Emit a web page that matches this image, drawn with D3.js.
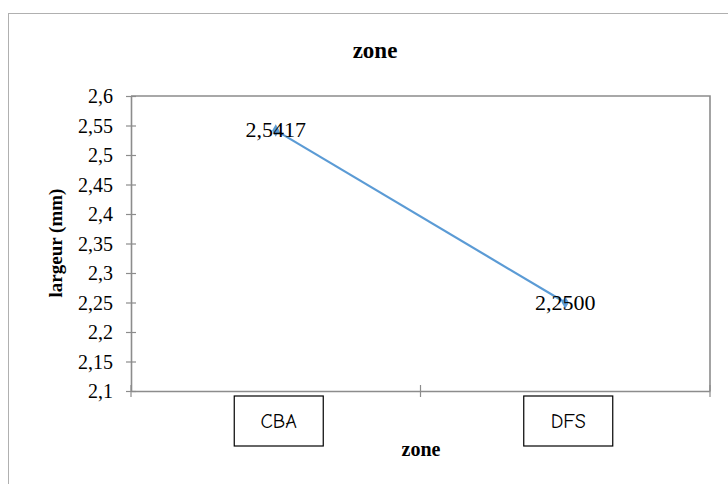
<!DOCTYPE html>
<html>
<head>
<meta charset="utf-8">
<script src="https://cdn.jsdelivr.net/npm/d3@7/dist/d3.min.js"></script>
<style>
html,body{margin:0;padding:0;background:#fff;}
svg{display:block;}
</style>
</head>
<body>
<div id="chart"></div>
<script>
const categories = ["CBA", "DFS"];
const values = [2.5417, 2.2500];
const valueLabels = ["2,5417", "2,2500"];
const yTicks = [2.1, 2.15, 2.2, 2.25, 2.3, 2.35, 2.4, 2.45, 2.5, 2.55, 2.6];
const chartTitle = "zone";
const xTitle = "zone";
const yTitle = "largeur (mm)";

(function () {
const W = 728, H = 484;
const svg = d3.select("#chart").append("svg").attr("width", W).attr("height", H);

// outer chart border
svg.append("rect").attr("x", 8.5).attr("y", 13.5).attr("width", 730).attr("height", 480)
  .attr("fill", "none").attr("stroke", "#b0b0b0").attr("stroke-width", 1);

const pL = 131, pR = 710, pT = 96, pB = 391;
const x = d3.scaleBand().domain(categories).range([pL, pR]).padding(0);
const y = d3.scaleLinear().domain([2.1, 2.6]).range([pB, pT]);

const serif = "'Liberation Serif','Times New Roman',serif";
const axisColor = "#8c8c8c";

// plot border (top and right)
svg.append("path")
  .attr("d", `M${pL},${y(2.6)}H${pR}V${pB}`)
  .attr("fill", "none").attr("stroke", axisColor).attr("stroke-width", 1.6);

// Y axis
const yAxis = svg.append("g").attr("transform", `translate(${pL},0)`)
  .call(d3.axisLeft(y).tickValues(yTicks).tickSize(0).tickFormat(d => String(d).replace(".", ",")));
yAxis.select(".domain").attr("stroke", axisColor).attr("stroke-width", 1.6);
yAxis.selectAll(".tick line").remove();
yAxis.selectAll(".tick").append("line").attr("x1", -5).attr("x2", 5)
  .attr("stroke", axisColor).attr("stroke-width", 1.2);
yAxis.selectAll(".tick text").attr("x", -18).attr("dy", "0.34em")
  .attr("font-family", serif).attr("font-size", 20).attr("fill", "#000");

// X axis
const xAxis = svg.append("g").attr("transform", `translate(0,${pB})`)
  .call(d3.axisBottom(x).tickSize(0).tickFormat(""));
xAxis.select(".domain").attr("stroke", axisColor).attr("stroke-width", 1.6);
xAxis.selectAll(".tick").remove();
const bounds = [pL, ...categories.map(c => x(c) + x.bandwidth())];
xAxis.selectAll(".xt").data(bounds).enter().append("line")
  .attr("x1", d => d).attr("x2", d => d).attr("y1", -6).attr("y2", 6)
  .attr("stroke", axisColor).attr("stroke-width", 1.2);

// category label boxes
const boxW = 89, boxH = 50;
const cat = svg.append("g").selectAll("g").data(categories).enter().append("g")
  .attr("transform", d => `translate(${x(d) + x.bandwidth() / 2 + 3},${pB + 5})`);
cat.append("rect").attr("x", -boxW / 2).attr("y", 0).attr("width", boxW).attr("height", boxH)
  .attr("fill", "#fff").attr("stroke", "#000").attr("stroke-width", 1.2);
cat.append("text").attr("x", 0).attr("y", boxH / 2 + 7).attr("text-anchor", "middle")
  .attr("font-family", "'Comic Sans MS','Comic Neue','DejaVu Sans',sans-serif").attr("font-size", 20)
  .attr("fill", "#000").text(d => d);

// line
const pts = categories.map((c, i) => [x(c) + x.bandwidth() / 2, y(values[i])]);
svg.append("path").datum(pts).attr("d", d3.line())
  .attr("fill", "none").attr("stroke", "#5b9bd5").attr("stroke-width", 2.2);
svg.selectAll(".mk").data(pts).enter().append("path")
  .attr("d", d3.symbol(d3.symbolDiamond, 45))
  .attr("transform", d => `translate(${d[0]},${d[1]})`)
  .attr("fill", "#5b9bd5");

// data labels
svg.selectAll(".dl").data(pts).enter().append("text")
  .attr("x", d => d[0]).attr("y", d => d[1] + 7).attr("text-anchor", "middle")
  .attr("font-family", serif).attr("font-size", 22).attr("fill", "#000")
  .text((d, i) => valueLabels[i]);

// titles
svg.append("text").attr("x", 375).attr("y", 58).attr("text-anchor", "middle")
  .attr("font-family", serif).attr("font-weight", "bold").attr("font-size", 23).text(chartTitle);
svg.append("text").attr("x", 421).attr("y", 456).attr("text-anchor", "middle")
  .attr("font-family", serif).attr("font-weight", "bold").attr("font-size", 20).text(xTitle);
svg.append("text").attr("transform", `translate(62,243) rotate(-90)`).attr("text-anchor", "middle")
  .attr("font-family", serif).attr("font-weight", "bold").attr("font-size", 19).text(yTitle);
})();
</script>
</body>
</html>
